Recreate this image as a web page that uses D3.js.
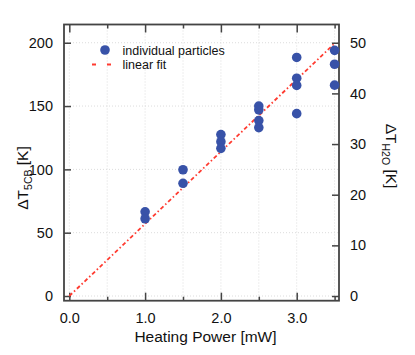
<!DOCTYPE html>
<html>
<head>
<meta charset="utf-8">
<script src="https://d3js.org/d3.v7.min.js"></script>
<style>
  body { margin: 0; background: #fff; }
  text { font-family: 'Liberation Sans', Arial, sans-serif; fill: #111; }
</style>
</head>
<body>
<script>
// heating power [mW] and measured temperature rise of 5CB [K]
var power = [1.0, 1.0, 1.5, 1.5, 2.0, 2.0, 2.0, 2.5, 2.5, 2.5, 2.5, 3.0, 3.0, 3.0, 3.0, 3.5, 3.5, 3.5];
var dT5cb = [66.5, 61, 99.7, 89, 127.5, 121.8, 116.6, 150, 147, 138.5, 133, 188.4, 172, 166.3, 144, 194, 183, 166.5];
var fitSlope = 57;              // K per mW, fit through origin
var fitRange = [0, 3.5];
var xMajor = [0, 1, 2, 3];
var xMinor = [0.5, 1.5, 2.5, 3.5];
var yLeftTicks = [0, 50, 100, 150, 200];
var yRightTicks = [0, 10, 20, 30, 40, 50];

var W = 415, H = 355;
var L = 64, R = 339, T = 24.5, B = 300.7;

var svg = d3.select("body").append("svg").attr("width", W).attr("height", H);

var x = d3.scaleLinear().domain([-0.07, 3.558]).range([L, R]);
var y = d3.scaleLinear().domain([-3.7, 214.4]).range([B, T]);
var y2 = d3.scaleLinear().domain([-3.7 / 4, 214.4 / 4]).range([B, T]);

// grid
var grid = svg.append("g").attr("stroke", "#dcdcdc").attr("stroke-dasharray", "1,2").attr("stroke-width", 1);
grid.selectAll(".gx").data(xMajor.concat(xMinor)).enter().append("line")
  .attr("x1", d => x(d)).attr("x2", d => x(d)).attr("y1", T).attr("y2", B);
grid.selectAll(".gy").data(yLeftTicks).enter().append("line")
  .attr("y1", d => y(d)).attr("y2", d => y(d)).attr("x1", L).attr("x2", R);

// axes with inward ticks
function styleAxis(g) {
  g.select(".domain").remove();
  g.selectAll(".tick line").attr("stroke", "#444").attr("stroke-width", 1.5);
  g.selectAll(".tick text").style("font-size", "14.5px").attr("fill", "#111");
}
svg.append("g").attr("transform", "translate(0," + B + ")")
  .call(d3.axisBottom(x).tickValues(xMajor).tickFormat(d3.format(".1f")).tickSizeInner(-8).tickPadding(12))
  .call(styleAxis);
svg.append("g").attr("transform", "translate(0," + B + ")")
  .call(d3.axisBottom(x).tickValues(xMinor).tickFormat("").tickSizeInner(-4))
  .call(styleAxis);
svg.append("g").attr("transform", "translate(0," + T + ")")
  .call(d3.axisTop(x).tickValues(xMajor).tickFormat("").tickSizeInner(-8))
  .call(styleAxis);
svg.append("g").attr("transform", "translate(0," + T + ")")
  .call(d3.axisTop(x).tickValues(xMinor).tickFormat("").tickSizeInner(-4))
  .call(styleAxis);
svg.append("g").attr("transform", "translate(" + L + ",0)")
  .call(d3.axisLeft(y).tickValues(yLeftTicks).tickSizeInner(-7).tickPadding(11))
  .call(styleAxis);
svg.append("g").attr("transform", "translate(" + R + ",0)")
  .call(d3.axisRight(y2).tickValues(yRightTicks).tickSizeInner(-7).tickPadding(11))
  .call(styleAxis);

// frame
svg.append("rect").attr("x", L).attr("y", T).attr("width", R - L).attr("height", B - T)
  .attr("fill", "none").attr("stroke", "#444").attr("stroke-width", 1.8);

// fit line
svg.append("path")
  .datum(fitRange)
  .attr("fill", "none")
  .attr("stroke", "#ff3b30")
  .attr("stroke-width", 1.8)
  .attr("stroke-dasharray", "4,2.5,1.5,2.5")
  .attr("d", d3.line().x(d => x(d)).y(d => y(d * fitSlope)));

// points
svg.append("g").selectAll("circle").data(power).enter().append("circle")
  .attr("cx", d => x(d))
  .attr("cy", (d, i) => y(dT5cb[i]))
  .attr("r", 4.8)
  .attr("fill", "#3852a8");

// legend
svg.append("circle").attr("cx", 105).attr("cy", 50).attr("r", 4.8).attr("fill", "#3852a8");
svg.append("text").attr("x", 122.5).attr("y", 54.5).style("font-size", "12.5px").text("individual particles");
svg.append("line").attr("x1", 92).attr("x2", 111).attr("y1", 64.5).attr("y2", 64.5)
  .attr("stroke", "#ff3b30").attr("stroke-width", 1.8).attr("stroke-dasharray", "4,11");
svg.append("text").attr("x", 122.5).attr("y", 69).style("font-size", "12.5px").text("linear fit");

// axis titles
svg.append("text").attr("x", 205.5).attr("y", 342).attr("text-anchor", "middle")
  .style("font-size", "15.5px").text("Heating Power [mW]");

var ly = svg.append("text").attr("transform", "translate(28,178) rotate(-90)")
  .attr("text-anchor", "middle").style("font-size", "15.5px");
ly.append("tspan").text("ΔT");
ly.append("tspan").attr("dy", 4).style("font-size", "10.5px").text("5CB");
ly.append("tspan").attr("dy", -4).text(" [K]");

var ry = svg.append("text").attr("transform", "translate(386,156) rotate(90)")
  .attr("text-anchor", "middle").style("font-size", "15.5px");
ry.append("tspan").text("ΔT");
ry.append("tspan").attr("dy", 4).style("font-size", "10.5px").text("H2O");
ry.append("tspan").attr("dy", -4).text(" [K]");
</script>
</body>
</html>
